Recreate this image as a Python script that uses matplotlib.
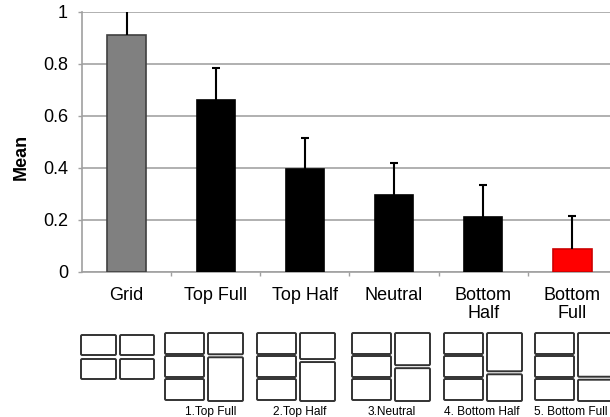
import matplotlib
matplotlib.use("Agg")
import matplotlib.pyplot as plt
from matplotlib.patches import FancyBboxPatch

plt.rcParams['font.family'] = ['Liberation Sans', 'DejaVu Sans']

categories = ['Grid', 'Top Full', 'Top Half', 'Neutral', 'Bottom\nHalf', 'Bottom\nFull']
means = [0.91, 0.66, 0.395, 0.295, 0.21, 0.09]
errors = [0.12, 0.125, 0.12, 0.125, 0.125, 0.125]
bar_colors = ['#808080', 'black', 'black', 'black', 'black', '#ff0000']
edge_colors = ['#404040', 'black', 'black', 'black', 'black', '#cc0000']

# layout sketches under the chart: where the right column is split (fraction from top)
layout_names = ['1.Top Full', '2.Top Half', '3.Neutral', '4. Bottom Half', '5. Bottom Full']
right_splits = [0.335, 0.405, 0.495, 0.585, 0.665]

W, H = 610, 417
fig = plt.figure(figsize=(W / 100, H / 100), dpi=100)

ax = fig.add_axes([82 / W, 145 / H, (617 - 82) / W, 260 / H])
x = range(len(categories))
ax.bar(x, means, width=0.43, color=bar_colors, edgecolor=edge_colors, linewidth=1.2, zorder=3)
_, caps, _ = ax.errorbar(x, means, yerr=[[0] * len(errors), errors], fmt='none', ecolor='black',
                         elinewidth=1.5, capsize=3, capthick=1.5, zorder=4)
caps[0].set_visible(False)  # only the upper cap
ax.set_xlim(-0.5, len(categories) - 0.5)
ax.set_ylim(0, 1)
ax.set_yticks([0, 0.2, 0.4, 0.6, 0.8, 1])
ax.set_yticklabels(['0', '0.2', '0.4', '0.6', '0.8', '1'])
ax.yaxis.grid(True, color='#b0b0b0', linewidth=1.4, zorder=0)
ax.set_axisbelow(True)
for s in ['top', 'right']:
    ax.spines[s].set_visible(False)
for s in ['left', 'bottom']:
    ax.spines[s].set_color('#a0a0a0')
    ax.spines[s].set_linewidth(1.2)
ax.set_xticks(list(x))
ax.set_xticklabels(categories, fontsize=13, linespacing=1.05)
ax.set_xticks([i + 0.5 for i in range(len(categories))], minor=True)
ax.tick_params(axis='x', which='major', length=0, pad=11)
ax.tick_params(axis='x', which='minor', length=3, color='#a0a0a0', width=1)
ax.tick_params(axis='y', length=3, color='#a0a0a0', width=1, labelsize=13, pad=7)

fig.text(21 / W, 1 - 157 / H, 'Mean', rotation=90, fontsize=13, fontweight='bold',
         ha='center', va='center')

# overlay in pixel coordinates for the layout sketches
ov = fig.add_axes([0, 0, 1, 1])
ov.set_xlim(0, W)
ov.set_ylim(H, 0)
ov.axis('off')


def cell(x0, y0, x1, y1):
    ov.add_patch(FancyBboxPatch((x0, y0), x1 - x0, y1 - y0,
                                boxstyle='round,pad=0,rounding_size=1.2',
                                facecolor='white', edgecolor='#333333', linewidth=1.4))


# plain 2x2 grid
gx, gy, gw, gh = 81, 335, 73, 44
cell(gx, gy, gx + 35, gy + 20)
cell(gx + 39, gy, gx + gw, gy + 20)
cell(gx, gy + 24, gx + 35, gy + gh)
cell(gx + 39, gy + 24, gx + gw, gy + gh)

lefts = [165, 257, 352, 444, 535]
label_x = [211, 300, 392, 482, 571]
top, h, w = 333, 68, 78
for left, lx, split, name in zip(lefts, label_x, right_splits, layout_names):
    lw_ = 39
    # left column: three equal cells
    for r in range(3):
        cell(left, top + r * 23, left + lw_, top + r * 23 + 21)
    cell(left + lw_ + 4, top, left + w, top + split * h - 1.5)
    cell(left + lw_ + 4, top + split * h + 1.5, left + w, top + h)
    ov.text(lx, top + h + 11, name, fontsize=8.6, ha='center', va='center')

fig.savefig('out.png', dpi=100)
